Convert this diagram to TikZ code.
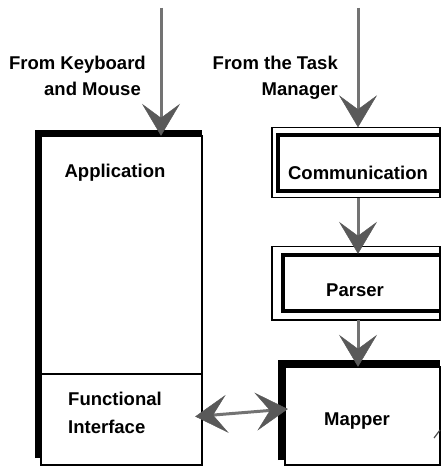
\documentclass[tikz,border=0pt]{standalone}
\usepackage{fontspec}
\setmainfont{Liberation Sans}
\usetikzlibrary{arrows.meta}
\begin{document}
\begin{tikzpicture}[x=1pt,y=-1pt,
  lbl/.style={font=\bfseries\fontsize{18.5}{18.5}\selectfont, inner sep=0pt},
  thinframe/.style={draw=black, line width=2pt},
  dblouter/.style={draw=black, line width=1.5pt},
  dblinner/.style={draw=black, line width=4pt},
  heavyframe/.style={draw=black, line width=7pt},
  area/.style={draw=none, inner sep=0pt},
  flow/.style={draw=black!55, line width=3pt,
    -{Stealth[length=32pt,width=38pt,inset=14pt,color=black!65,line width=0.5pt]}},
  flowboth/.style={draw=black!55, line width=3pt,
    {Stealth[length=32pt,width=38pt,inset=14pt,color=black!65,line width=0.5pt]}-{Stealth[length=32pt,width=38pt,inset=14pt,color=black!65,line width=0.5pt]}}
]
\useasboundingbox (0,0) rectangle (441,468);
\fill[white] (0,0) rectangle (441,468);

% Application box
\node[area, minimum width=161pt, minimum height=329pt] (app) at (121.5,300.5) {};
\draw[thinframe] (41,136) rectangle (202,465);
\draw[heavyframe] (38.5,458) -- (38.5,133.5) -- (202,133.5);
\draw[black, line width=1.8pt] (41,374) -- (202,374);
\node[area, minimum width=161pt, minimum height=91pt] (fi) at (121.5,419.5) {};

% Communication box
\node[area, minimum width=168pt, minimum height=70pt] (comm) at (356,162.5) {};
\draw[dblouter] (272,127.5) rectangle (440,197.5);
\draw[dblinner] (440,135) -- (278,135) -- (278,191) -- (440,191);

% Parser box
\node[area, minimum width=168pt, minimum height=74pt] (parser) at (356,283) {};
\draw[dblouter] (272,246.5) rectangle (440,320);
\draw[dblinner] (440,255) -- (283,255) -- (283,311) -- (440,311);

% Mapper box
\node[area, minimum width=155pt, minimum height=98pt] (mapper) at (362.5,416) {};
\draw[thinframe] (285,367) rectangle (440,465);
\draw[heavyframe] (281.5,460) -- (281.5,363.5) -- (440,363.5);

% labels
\node[lbl, anchor=base east] (kb1) at (146,70) {From Keyboard};
\node[lbl, anchor=base east] (kb2) at (141,96) {and Mouse};
\node[lbl, anchor=base east] (tm1) at (338,70) {From the Task};
\node[lbl, anchor=base east] (tm2) at (338,96) {Manager};
\node[lbl, anchor=base] (applbl) at (115,177) {Application};
\node[lbl, anchor=base] (commlbl) at (358,179) {Communication};
\node[lbl, anchor=base] (parlbl) at (355,296) {Parser};
\node[lbl, anchor=base] (maplbl) at (357,425) {Mapper};
\node[lbl, anchor=base west] (fi1) at (68,405) {Functional};
\node[lbl, anchor=base west] (fi2) at (68,433) {Interface};

% connectors
\coordinate (kbsrc) at (161,8);
\coordinate (tmsrc) at (358,8);
\draw[flow] (kbsrc) -- (kbsrc |- app.north);
\draw[flow] (tmsrc) -- (tmsrc |- comm.north);
\draw[flow] (comm.south -| tmsrc) -- ([yshift=-8pt]parser.north -| tmsrc);
\draw[flow] (parser.south -| tmsrc) -- (mapper.north -| tmsrc);
\draw[flowboth] ([xshift=-7pt,yshift=3pt]fi.east) -- ([xshift=3pt,yshift=7pt]mapper.west);

% small cut-off mark at right edge
\draw[black!70, line width=1.2pt] (434,438) -- (440,430);
\end{tikzpicture}
\end{document}
